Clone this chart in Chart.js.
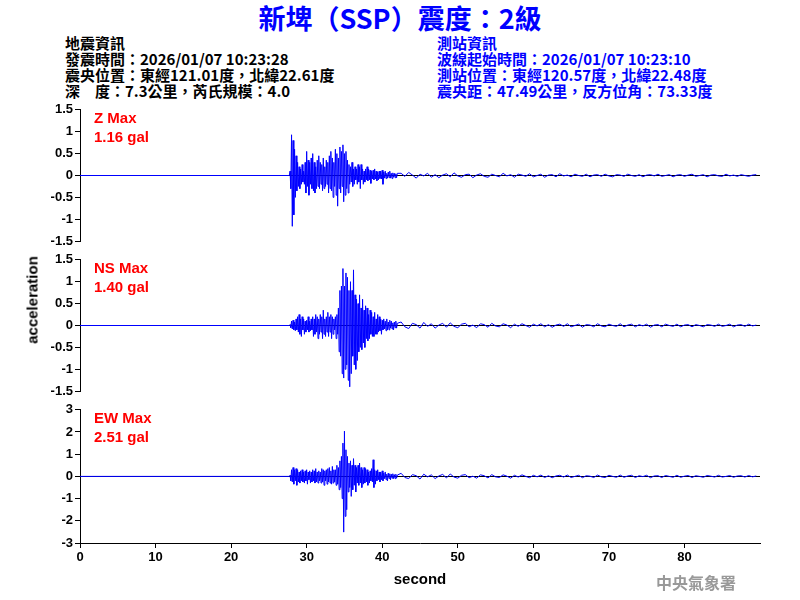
<!DOCTYPE html>
<html><head><meta charset="utf-8">
<script src="https://cdn.jsdelivr.net/npm/chart.js@4/dist/chart.umd.min.js"></script>
<style>
body{margin:0;width:800px;height:600px;background:#fff;position:relative;overflow:hidden;font-family:"Liberation Sans",Arial,sans-serif}
.a{position:absolute;white-space:nowrap}
.hd{font-family:"Noto Sans CJK TC",sans-serif;font-weight:bold;font-size:15px;line-height:16px}
.lb{font-weight:bold;font-size:15px;color:#f00;line-height:19px}
canvas{position:absolute;left:0}
</style></head><body>
<div class="a" style="left:0;width:800px;top:0px;text-align:center;color:#00f;font-family:'Noto Sans CJK TC',sans-serif;font-weight:bold;font-size:27px;line-height:36px">新埤（SSP）震度：2級</div>
<div class="a hd" style="left:65px;top:35px;color:#000">地震資訊<br>發震時間：2026/01/07 10:23:28<br>震央位置：東經121.01度，北緯22.61度<br>深　度：7.3公里，芮氏規模：4.0</div>
<div class="a hd" style="left:437px;top:35px;color:#00f">測站資訊<br>波線起始時間：2026/01/07 10:23:10<br>測站位置：東經120.57度，北緯22.48度<br>震央距：47.49公里，反方位角：73.33度</div>
<canvas id="c1" width="800" height="151" style="top:100px"></canvas>
<canvas id="c2" width="800" height="151" style="top:250px"></canvas>
<canvas id="c3" width="800" height="200" style="top:400px"></canvas>
<div class="a lb" style="left:94px;top:108px">Z Max<br>1.16 gal</div>
<div class="a lb" style="left:94px;top:258px">NS Max<br>1.40 gal</div>
<div class="a lb" style="left:94px;top:408px">EW Max<br>2.51 gal</div>
<div class="a" style="left:32px;top:300px;transform:translate(-50%,-50%) rotate(-90deg);font-weight:bold;font-size:15px">acceleration</div>
<div class="a" style="left:656px;top:570px;color:#999;font-family:'Noto Sans CJK TC',sans-serif;font-weight:bold;font-size:16px">中央氣象署</div>
<script>
const activeStart=27.8, activeStep=0.1, tailStart=42.5, tailStep=0.5;
const zActive=[0.1,-0.3,0.93,-1.16,0.8,-0.9,0.6,-0.5,0.45,-0.35,
0.3,-0.25,0.2,-0.3,0.15,-0.2,0.25,-0.15,0.1,-0.2,
0.3,-0.4,0.55,-0.25,0.35,-0.45,0.3,-0.2,0.4,-0.3,
0.5,-0.35,0.3,-0.4,0.2,-0.3,0.35,-0.25,0.45,-0.3,
0.3,-0.2,0.25,-0.35,0.4,-0.3,0.2,-0.25,0.35,-0.2,
0.3,-0.4,0.45,-0.3,0.55,-0.35,0.4,-0.5,0.3,-0.25,
0.6,-0.45,0.5,-0.7,0.4,-0.3,0.65,-0.4,0.55,-0.25,
0.7,-0.6,0.5,-0.45,0.55,-0.3,0.35,-0.4,0.25,-0.2,
0.2,-0.15,0.3,-0.25,0.15,-0.2,0.2,-0.1,0.15,-0.2,
0.25,-0.15,0.2,-0.3,0.25,-0.1,0.15,-0.2,0.1,-0.15,
0.15,-0.1,0.2,-0.12,0.15,-0.1,0.12,-0.18,0.1,-0.08,
0.12,-0.1,0.15,-0.08,0.1,-0.12,0.08,-0.1,0.1,-0.07,
0.1,-0.08,0.12,-0.2,0.08,-0.06,0.1,-0.07,0.05,-0.06,
0.08,-0.05,0.1,-0.06,0.05,-0.07,0.06,-0.04,0.05,-0.05,
0.04,-0.05,0.05];
const nsActive=[0.02,-0.05,0.1,-0.08,0.12,-0.1,0.08,-0.12,0.15,-0.1,
0.2,-0.15,0.25,-0.2,0.15,-0.25,0.2,-0.1,0.15,-0.2,
0.1,-0.15,0.12,-0.1,0.2,-0.15,0.1,-0.12,0.15,-0.1,
0.2,-0.25,0.15,-0.2,0.25,-0.15,0.2,-0.3,0.15,-0.2,
0.25,-0.15,0.2,-0.3,0.35,-0.2,0.15,-0.25,0.2,-0.15,
0.3,-0.25,0.2,-0.15,0.25,-0.3,0.2,-0.2,0.15,-0.1,
0.2,-0.3,0.25,-0.2,0.4,-0.6,0.8,-0.7,0.9,-1.1,
1.3,-1.2,0.9,-1.0,1.2,-0.9,1.1,-1.25,0.8,-1.4,
1.0,-1.1,0.8,-0.7,1.27,-0.9,0.7,-1.0,0.6,-0.8,
0.5,-0.6,0.7,-0.5,0.4,-0.55,0.6,-0.4,0.35,-0.5,
0.45,-0.3,0.4,-0.35,0.25,-0.3,0.35,-0.2,0.3,-0.25,
0.2,-0.25,0.3,-0.2,0.15,-0.2,0.25,-0.15,0.2,-0.12,
0.15,-0.2,0.12,-0.1,0.15,-0.08,0.1,-0.12,0.15,-0.1,
0.08,-0.1,0.12,-0.06,0.1,-0.08,0.06,-0.1,0.08,-0.05,
0.1,-0.06,0.05];
const ewActive=[0.05,-0.2,0.3,-0.25,0.4,-0.35,0.3,-0.2,0.35,-0.4,
0.3,-0.25,0.2,-0.3,0.25,-0.2,0.3,-0.25,0.2,-0.3,
0.25,-0.2,0.3,-0.35,0.2,-0.15,0.25,-0.3,0.2,-0.25,
0.3,-0.2,0.25,-0.3,0.35,-0.25,0.2,-0.3,0.25,-0.2,
0.2,-0.3,0.35,-0.25,0.3,-0.4,0.25,-0.2,0.3,-0.35,
0.35,-0.25,0.4,-0.3,0.25,-0.35,0.45,-0.3,0.3,-0.25,
0.3,-0.4,0.5,-0.35,0.4,-0.6,0.7,-0.5,0.9,-1.0,
1.5,-2.51,2.04,-1.8,1.2,-1.5,0.9,-0.7,0.6,-0.5,
0.7,-0.9,0.5,-0.6,0.8,-0.4,0.5,-0.7,0.4,-0.3,
0.5,-0.4,0.6,-0.3,0.4,-0.5,0.3,-0.35,0.4,-0.3,
0.35,-0.25,0.3,-0.4,0.2,-0.3,0.25,-0.2,0.35,-0.25,
0.75,-0.5,0.3,-0.35,0.25,-0.2,0.3,-0.15,0.2,-0.25,
0.2,-0.15,0.25,-0.2,0.15,-0.1,0.2,-0.15,0.1,-0.2,
0.15,-0.1,0.12,-0.15,0.1,-0.08,0.12,-0.1,0.08,-0.1,
0.1,-0.08,0.06];
const zTail=[0.05,-0.02,0.07,0.01,-0.06,0.03,-0.01,0.05,-0.04,0.02,-0.05,0.01,0.04,-0.03,0.06,-0.01,-0.04,0.02,0.03,-0.05,
0.01,0.04,-0.02,-0.04,0.03,0.0,-0.03,0.05,-0.01,0.02,-0.04,0.03,0.01,-0.02,0.04,-0.03,0.0,0.03,-0.04,0.01,
0.02,-0.03,0.04,-0.01,0.01,-0.03,0.03,0.0,-0.02,0.03,-0.03,0.01,0.02,-0.02,0.03,-0.01,-0.03,0.02,0.01,-0.02,
0.03,0.0,-0.02,0.02,-0.03,0.01,0.02,-0.01,0.03,-0.02,0.0,0.02,-0.03,0.01,0.02,-0.02,0.01,0.03,-0.02,0.0,
0.02,-0.03,0.01,0.02,-0.01,-0.02,0.03,-0.01,0.01,-0.02,0.02,0.0,-0.02,0.01,0.02];
const nsTail=[0.08,-0.03,-0.07,0.05,0.02,-0.06,0.07,-0.02,0.04,-0.06,0.01,0.05,-0.04,0.06,-0.02,-0.05,0.03,0.05,-0.03,0.01,
-0.05,0.04,0.02,-0.04,0.05,-0.01,-0.03,0.04,0.01,-0.05,0.03,-0.02,0.04,0.0,-0.04,0.03,-0.01,0.04,-0.03,0.02,
-0.04,0.01,0.03,-0.02,0.04,-0.03,0.0,0.03,-0.04,0.02,0.01,-0.03,0.04,-0.01,-0.03,0.03,0.0,-0.02,0.04,-0.03,
0.01,0.03,-0.03,0.02,-0.01,0.03,-0.04,0.01,0.02,-0.03,0.03,0.0,-0.02,0.03,-0.03,0.01,0.02,-0.03,0.02,0.0,
-0.03,0.02,0.01,-0.02,0.03,-0.02,0.0,0.03,-0.03,0.01,0.02,-0.02,0.03,-0.01,0.01];
const ewTail=[0.14,-0.05,-0.1,0.08,0.03,-0.12,0.1,-0.02,0.07,-0.1,0.02,0.09,-0.07,0.11,-0.03,-0.08,0.05,0.08,-0.06,0.01,
-0.08,0.07,0.03,-0.07,0.08,-0.02,-0.05,0.07,0.01,-0.08,0.05,-0.03,0.07,0.0,-0.06,0.05,-0.02,0.06,-0.05,0.03,
-0.06,0.02,0.05,-0.03,0.06,-0.05,0.0,0.05,-0.06,0.03,0.01,-0.05,0.06,-0.02,-0.05,0.05,0.0,-0.04,0.06,-0.04,
0.02,0.05,-0.05,0.03,-0.01,0.05,-0.06,0.02,0.03,-0.05,0.04,0.0,-0.04,0.05,-0.04,0.01,0.04,-0.05,0.03,0.0,
-0.04,0.04,0.01,-0.03,0.05,-0.03,0.0,0.04,-0.04,0.02,0.03,-0.03,0.04,-0.02,0.02];
const xMax=90;

function series(active,tail){
  const pts=[{x:0,y:0},{x:27.7,y:0}];
  active.forEach((v,i)=>pts.push({x:+(activeStart+i*activeStep).toFixed(2),y:v}));
  tail.forEach((v,i)=>pts.push({x:tailStart+i*tailStep,y:v}));
  return pts;
}
const tickFont={family:"'Liberation Sans',Arial,sans-serif",size:13,weight:'bold'};
function make(id,data,lim,step,showX){
  new Chart(document.getElementById(id),{
    type:'line',
    data:{datasets:[{data:data,borderColor:'#0000ff',borderWidth:1,pointRadius:0,tension:0,fill:false}]},
    options:{responsive:false,animation:false,devicePixelRatio:1,
      layout:{padding:{left:0,right:40,top:8,bottom:showX?7:8}},
      plugins:{legend:{display:false},tooltip:{enabled:false}},
      scales:{
        x:{type:'linear',min:0,max:xMax,display:showX,
          afterBuildTicks:s=>{s.ticks=s.ticks.filter(t=>t.value<90);},
          ticks:{stepSize:10,color:'#000',font:tickFont,padding:2,maxRotation:0,autoSkip:false},
          grid:{drawOnChartArea:false,color:'#000',tickLength:5,tickColor:'#000'},
          border:{color:'#000',width:1},
          title:{display:true,text:'second',color:'#000',font:{family:"'Liberation Sans',Arial,sans-serif",size:15,weight:'bold'},padding:{top:4}},
          afterFit:s=>{s.height=showX?50:0;}},
        y:{min:-lim,max:lim,
          ticks:{stepSize:step,color:'#000',font:tickFont,padding:2,autoSkip:false,callback:v=>String(+v.toFixed(2))},
          grid:{color:c=>c.tick&&c.tick.value===0?'#000':'rgba(0,0,0,0)',tickLength:5,tickColor:'#000',lineWidth:1},
          border:{color:'#000',width:1},
          afterFit:s=>{s.width=80;}}
      }}
  });
}
make('c1',series(zActive,zTail),1.5,0.5,false);
make('c2',series(nsActive,nsTail),1.5,0.5,false);
make('c3',series(ewActive,ewTail),3,1,true);
</script></body></html>
